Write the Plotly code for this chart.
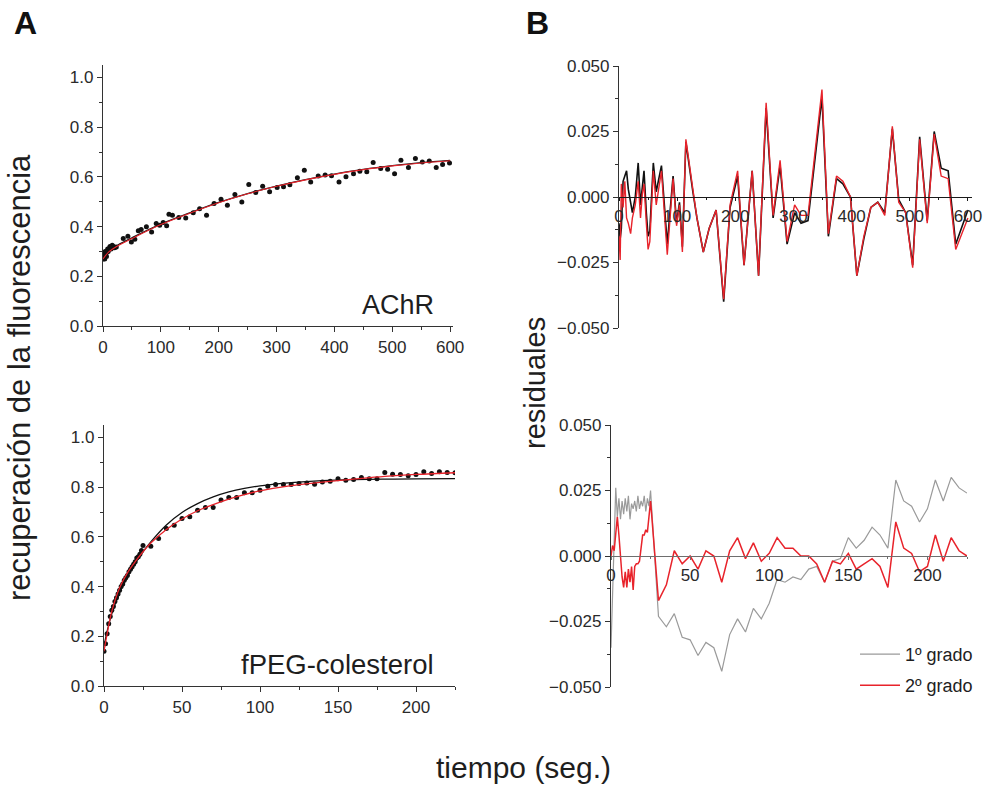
import plotly.graph_objects as go

# ---------------- Panel A (top): AChR recovery ----------------
achr_t = [0, 1, 2, 3, 4, 5, 6, 7, 8, 9, 10, 12, 14, 16, 18, 20, 23, 35, 43, 49, 55, 61, 66, 75, 84, 92,
          98, 104, 110, 114, 120, 131, 143, 156, 167, 179, 192, 204, 215, 228, 240, 252, 264, 276, 288, 301,
          312, 323, 336, 348, 359, 372, 384, 395, 408, 420, 433, 444, 456, 467, 480, 492, 504, 515, 528, 540,
          552, 564, 576, 587, 599]
achr_y = [0.27, 0.29, 0.28, 0.27, 0.30, 0.29, 0.28, 0.30, 0.31, 0.30, 0.31, 0.32, 0.31, 0.325, 0.32, 0.315,
          0.318, 0.352, 0.361, 0.338, 0.349, 0.383, 0.388, 0.399, 0.378, 0.412,
          0.405, 0.416, 0.403, 0.450, 0.446, 0.436, 0.434, 0.456, 0.472, 0.446,
          0.493, 0.510, 0.486, 0.529, 0.499, 0.569, 0.537, 0.562, 0.540, 0.557,
          0.560, 0.568, 0.596, 0.627, 0.579, 0.603, 0.607, 0.604, 0.579, 0.600,
          0.613, 0.623, 0.621, 0.658, 0.634, 0.631, 0.613, 0.667, 0.638, 0.674,
          0.660, 0.664, 0.638, 0.650, 0.656]
achr_fit_t = [0, 10, 25, 50, 100, 150, 200, 250, 300, 350, 400, 450, 500, 550, 600]
achr_fit1 = [0.285, 0.303, 0.325, 0.355, 0.410, 0.455, 0.497, 0.533, 0.563, 0.589, 0.611, 0.630, 0.645, 0.657, 0.666]
achr_fit2 = [0.270, 0.298, 0.322, 0.352, 0.408, 0.454, 0.496, 0.532, 0.562, 0.588, 0.610, 0.629, 0.644, 0.656, 0.665]

# ---------------- Panel A (bottom): fPEG-colesterol recovery ----------------
peg_t = list(range(0, 26)) + list(range(30, 226, 5))
peg_y = [0.14, 0.17, 0.21, 0.25, 0.28, 0.305, 0.32, 0.34, 0.355, 0.37, 0.385, 0.40, 0.41, 0.425, 0.435,
         0.445, 0.46, 0.47, 0.48, 0.49, 0.50, 0.515, 0.52, 0.53, 0.545, 0.565,
         0.562, 0.593, 0.634, 0.647, 0.674, 0.681, 0.707, 0.718, 0.718, 0.748, 0.758, 0.758, 0.777, 0.777,
         0.788, 0.804, 0.811, 0.811, 0.811, 0.815, 0.817, 0.812, 0.821, 0.824, 0.834, 0.828, 0.831, 0.839,
         0.834, 0.834, 0.859, 0.852, 0.851, 0.846, 0.851, 0.862, 0.855, 0.862, 0.859, 0.858]
peg_fit_t = [0, 2, 5, 10, 15, 20, 25, 30, 40, 50, 60, 70, 80, 90, 100, 120, 140, 160, 180, 200, 225]
peg_fit1 = [0.16, 0.22, 0.29, 0.375, 0.44, 0.495, 0.54, 0.58, 0.648, 0.698, 0.734, 0.761, 0.781, 0.795,
            0.805, 0.818, 0.826, 0.830, 0.832, 0.833, 0.834]
peg_fit2 = [0.14, 0.21, 0.30, 0.395, 0.455, 0.50, 0.54, 0.575, 0.63, 0.672, 0.705, 0.730, 0.752, 0.770,
            0.785, 0.806, 0.820, 0.832, 0.843, 0.851, 0.858]

# ---------------- Panel B (top): AChR residuals ----------------
res_achr_t = [0, 2, 4, 7, 10, 13, 16, 20, 23, 28, 33, 37, 40, 43, 47, 50, 53, 59, 64, 73,
              83, 93, 99, 104, 109, 115, 127, 134, 145, 155, 167, 180, 191, 204, 215, 229, 240, 253, 265, 277,
              289, 302, 313, 325, 349, 360, 374, 385, 398, 409, 421, 433, 445, 457, 470, 481, 493, 505, 517, 530,
              542, 554, 566, 579, 600]
res_achr_1 = [-0.010, -0.016, -0.012, 0.006, 0.008, 0.010, 0.003, -0.002, -0.006, 0.000,
              0.013, -0.003, 0.005, 0.010, -0.006, -0.015, -0.013, 0.013, 0.002, 0.012,
              -0.018, 0.008, -0.010, -0.002, -0.019, 0.021, 0.002, -0.008, -0.021, -0.012,
              -0.005, -0.040, -0.004, 0.008, -0.026, 0.010, -0.030, 0.034, -0.008, 0.012,
              -0.018, -0.006, -0.010, -0.009, 0.038, -0.015, 0.007, 0.005, 0.000, -0.030,
              -0.016, -0.004, -0.002, -0.006, 0.026, -0.001, -0.006, -0.026, 0.023, -0.009,
              0.025, 0.011, 0.010, -0.018, -0.005]
res_achr_2 = [-0.015, -0.024, 0.005, -0.004, 0.006, -0.008, -0.010, -0.014, -0.008, -0.003,
              0.006, -0.008, 0.001, 0.005, -0.010, -0.020, -0.017, 0.010, -0.003, 0.010,
              -0.022, 0.007, -0.011, -0.003, -0.021, 0.022, 0.003, -0.008, -0.021, -0.012,
              -0.005, -0.039, -0.003, 0.010, -0.026, 0.010, -0.030, 0.036, -0.007, 0.014,
              -0.017, -0.003, -0.007, -0.007, 0.041, -0.014, 0.008, 0.006, 0.000, -0.030,
              -0.015, -0.004, -0.002, -0.007, 0.027, -0.002, -0.006, -0.027, 0.022, -0.010,
              0.024, 0.008, 0.007, -0.020, -0.008]

# ---------------- Panel B (bottom): fPEG-colesterol residuals ----------------
res_peg_t = list(range(0, 26)) + list(range(30, 226, 5))
res_peg_1 = [-0.035, -0.012, 0.012, 0.026, 0.015, 0.022, 0.014, 0.021, 0.016, 0.022, 0.017, 0.023, 0.014,
             0.020, 0.018, 0.021, 0.017, 0.023, 0.018, 0.021, 0.019, 0.023, 0.017, 0.022, 0.019, 0.025,
             -0.023, -0.027, -0.022, -0.031, -0.032, -0.038, -0.033, -0.035, -0.044, -0.030,
             -0.024, -0.029, -0.020, -0.024, -0.018, -0.009, -0.010, -0.008, -0.009, -0.005,
             -0.004, -0.010, -0.002, -0.001, 0.007, 0.003, 0.006, 0.011, 0.008, 0.003,
             0.029, 0.021, 0.019, 0.013, 0.018, 0.029, 0.021, 0.030, 0.026, 0.024]
res_peg_2 = [0.000, 0.004, 0.002, 0.010, 0.015, 0.008, -0.002, -0.008, -0.012, -0.006, -0.012, -0.005, -0.010,
             -0.004, -0.013, -0.004, -0.003, -0.003, -0.002, 0.003, 0.008, 0.008, 0.010, 0.009, 0.016, 0.021,
             -0.017, -0.011, 0.002, -0.003, 0.000, -0.005, 0.002, 0.000, -0.010, 0.002,
             0.007, -0.001, 0.005, -0.002, 0.001, 0.007, 0.003, 0.003, 0.000, 0.000,
             -0.003, -0.010, -0.002, -0.003, 0.001, -0.005, -0.003, -0.001, -0.004, -0.012,
             0.013, 0.003, 0.001, -0.006, -0.004, 0.008, -0.002, 0.007, 0.002, 0.000]

legend_names = ["1º grado", "2º grado"]

W, H = 986, 787
FONT = "Liberation Sans, Arial, Helvetica, sans-serif"
RED = "#e8232b"
GRAY = "#9a9a9a"
INK = "#1e1e1e"


def px_x(p):
    return p / W


def px_y(p):
    return 1 - p / H


fig = go.Figure()

# Panel A top
fig.add_trace(go.Scatter(x=achr_t, y=achr_y, mode="markers", xaxis="x", yaxis="y",
                         marker=dict(color="#111111", size=5), showlegend=False))
fig.add_trace(go.Scatter(x=achr_fit_t, y=achr_fit1, mode="lines", xaxis="x", yaxis="y",
                         line=dict(color="#111111", width=1.3, shape="spline"), showlegend=False))
fig.add_trace(go.Scatter(x=achr_fit_t, y=achr_fit2, mode="lines", xaxis="x", yaxis="y",
                         line=dict(color=RED, width=1.1, shape="spline"), showlegend=False))

# Panel A bottom
fig.add_trace(go.Scatter(x=peg_t, y=peg_y, mode="markers", xaxis="x2", yaxis="y2",
                         marker=dict(color="#111111", size=5), showlegend=False))
fig.add_trace(go.Scatter(x=peg_fit_t, y=peg_fit1, mode="lines", xaxis="x2", yaxis="y2",
                         line=dict(color="#111111", width=1.3, shape="spline"), showlegend=False))
fig.add_trace(go.Scatter(x=peg_fit_t, y=peg_fit2, mode="lines", xaxis="x2", yaxis="y2",
                         line=dict(color=RED, width=1.3, shape="spline"), showlegend=False))

# Panel B top
fig.add_trace(go.Scatter(x=res_achr_t, y=res_achr_1, mode="lines", xaxis="x3", yaxis="y3",
                         line=dict(color="#111111", width=1.6), showlegend=False))
fig.add_trace(go.Scatter(x=res_achr_t, y=res_achr_2, mode="lines", xaxis="x3", yaxis="y3",
                         line=dict(color=RED, width=1.4), showlegend=False))

# Panel B bottom (each entry in its own legend box for row spacing)
fig.add_trace(go.Scatter(x=res_peg_t, y=res_peg_1, mode="lines", xaxis="x4", yaxis="y4",
                         line=dict(color=GRAY, width=1.2), name=legend_names[0], legend="legend"))
fig.add_trace(go.Scatter(x=res_peg_t, y=res_peg_2, mode="lines", xaxis="x4", yaxis="y4",
                         line=dict(color=RED, width=1.5), name=legend_names[1], legend="legend2"))

tickfont = dict(family=FONT, size=17, color="#2a2a2a")
common = dict(showline=True, showgrid=False, zeroline=False, automargin=False, tickfont=tickfont)


def left_x(dom, rng, dtick, minor):
    return dict(domain=dom, range=rng, dtick=dtick, tick0=0, linecolor="#333",
                linewidth=1.2, ticks="outside", ticklen=5, tickcolor="#333",
                minor=dict(ticks="outside", dtick=minor, tick0=0, ticklen=3, tickcolor="#333"), **common)


def left_y(dom, anchor):
    return dict(domain=dom, range=[0, 1.05], anchor=anchor, dtick=0.2, tick0=0, tickformat=".1f",
                linecolor="#333", linewidth=1.2, ticks="outside", ticklen=5, tickcolor="#333",
                minor=dict(ticks="outside", dtick=0.1, tick0=0, ticklen=3, tickcolor="#333"), **common)


def res_y(dom, anchor):
    return dict(domain=dom, range=[-0.05, 0.05], anchor=anchor, dtick=0.025, tick0=0, tickformat=".3f",
                linecolor="#333", linewidth=1.2, ticks="outside", ticklen=5, tickcolor="#333",
                minor=dict(ticks="outside", dtick=0.0125, tick0=0, ticklen=3, tickcolor="#333"), **common)


def res_x(dom, rng, dtick, minor, pos, color):
    return dict(domain=dom, range=rng, anchor="free", position=pos, dtick=dtick, tick0=0,
                linecolor=color, linewidth=1.4, ticks="outside", ticklen=3, tickcolor=color,
                minor=dict(ticks="outside", dtick=minor, tick0=0, ticklen=2, tickcolor=color), **common)


ya_dom = [px_y(326), px_y(65)]
yb_dom = [px_y(686), px_y(425)]
yc_dom = [px_y(328), px_y(66)]
yd_dom = [px_y(687), px_y(425)]

legend_style = dict(xanchor="left", yanchor="top", font=dict(family=FONT, size=18, color=INK),
                    bgcolor="rgba(0,0,0,0)", itemwidth=40)

fig.update_layout(
    template="none",
    width=W, height=H,
    margin=dict(l=0, r=0, t=0, b=0, autoexpand=False),
    paper_bgcolor="white", plot_bgcolor="white",
    font=dict(family=FONT, color=INK),
    xaxis=left_x([px_x(103), px_x(453)], [0, 605], 100, 50),
    yaxis=left_y(ya_dom, "x"),
    xaxis2=left_x([px_x(104), px_x(455)], [0, 225], 50, 25),
    yaxis2=left_y(yb_dom, "x2"),
    xaxis3=res_x([px_x(619), px_x(972)], [0, 607], 100, 50, sum(yc_dom) / 2, "#1a1a1a"),
    yaxis3=res_y(yc_dom, "x3"),
    xaxis4=res_x([px_x(611), px_x(967)], [0, 225], 50, 25, sum(yd_dom) / 2, "#6e6e6e"),
    yaxis4=res_y(yd_dom, "x4"),
    xaxis2_anchor="y2", xaxis_anchor="y",
    legend=dict(x=px_x(855), y=px_y(636), **legend_style),
    legend2=dict(x=px_x(855), y=px_y(667), **legend_style),
    showlegend=True,
)

annotations = [
    dict(text="<b>A</b>", x=px_x(12), y=px_y(23), xanchor="left", yanchor="middle",
         font=dict(size=32, family=FONT, color="#111")),
    dict(text="<b>B</b>", x=px_x(524), y=px_y(23), xanchor="left", yanchor="middle",
         font=dict(size=32, family=FONT, color="#111")),
    dict(text="AChR", x=px_x(436), y=px_y(305), xanchor="right", yanchor="middle",
         font=dict(size=27, family=FONT, color=INK)),
    dict(text="fPEG-colesterol", x=px_x(436), y=px_y(664), xanchor="right", yanchor="middle",
         font=dict(size=27.5, family=FONT, color=INK)),
    dict(text="recuperación de la fluorescencia", x=px_x(20), y=px_y(378), textangle=-90,
         xanchor="center", yanchor="middle", font=dict(size=31, family=FONT, color=INK)),
    dict(text="residuales", x=px_x(535), y=px_y(383), textangle=-90,
         xanchor="center", yanchor="middle", font=dict(size=29, family=FONT, color=INK)),
    dict(text="tiempo (seg.)", x=px_x(523), y=px_y(767), xanchor="center", yanchor="middle",
         font=dict(size=30, family=FONT, color=INK)),
]
for a in annotations:
    a.update(xref="paper", yref="paper", showarrow=False)
fig.update_layout(annotations=annotations)

# the page body gets no margin so the figure fills the window exactly
fig.write_html("out.html", post_script="document.body.style.margin='0';")
